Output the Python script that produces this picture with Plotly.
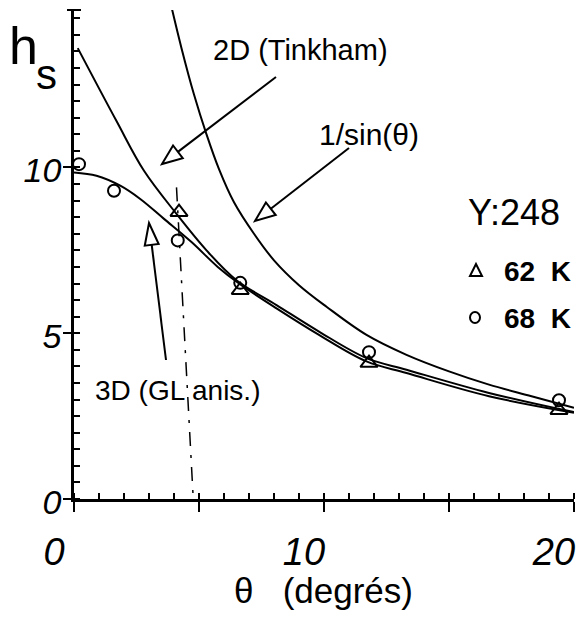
import math
import plotly.graph_objects as go

# ---------------- data ----------------
theta_62K = [4.2, 6.65, 11.8, 19.4]
hs_62K = [8.65, 6.3, 4.1, 2.68]

theta_68K = [0.2, 1.6, 4.15, 6.65, 11.8, 19.4]
hs_68K = [10.1, 9.3, 7.8, 6.52, 4.43, 2.98]

theta_invsin = [3.85, 4.3, 4.8, 5.3, 5.8, 6.4, 7.2, 8.0, 9.0, 10.1, 11.7, 13.3, 15.0, 16.6, 18.3, 20.0]
hs_invsin = [15.0, 13.6, 12.2, 11.0, 9.95, 8.95, 8.0, 7.2, 6.45, 5.8, 4.95, 4.35, 3.85, 3.45, 3.1, 2.75]

theta_2D = [0.15, 1.7, 2.8, 4.1, 5.3, 6.5, 8.1, 9.8, 11.7, 13.3, 16.6, 20.0]
hs_2D = [13.6, 11.4, 9.9, 8.6, 7.5, 6.6, 5.85, 5.05, 4.25, 3.9, 3.2, 2.62]

theta_3D = [0.0, 0.9, 1.85, 2.65, 3.6, 4.7, 5.75, 6.6, 8.1, 9.8, 11.7, 13.3, 16.6, 20.0]
hs_3D = [9.85, 9.75, 9.45, 9.05, 8.45, 7.75, 7.0, 6.5, 5.75, 4.95, 4.15, 3.8, 3.1, 2.6]

theta_dash = [4.1, 4.76]
hs_dash = [9.4, 0.15]

x_tickvals = [0, 5, 10, 15, 20]
x_ticktext = ["0", "", "10", "", "20"]
y_tickvals = [0, 5, 10]
y_ticktext = ["0", "5", "10"]

# ---------------- layout geometry ----------------
W, H = 585, 620
ML, MR, MT, MB = 74, 11, 10, 121
PW, PH = W - ML - MR, H - MT - MB
X_RANGE = [0, 20]
Y_RANGE = [0, 14.75]

FONT = "Liberation Sans, Arial, sans-serif"


def px(x):
    return (x - ML) / PW


def py(y):
    return (H - MB - y) / PH


fig = go.Figure()

line_style = dict(color="black", width=2, shape="spline", smoothing=1.0)
fig.add_trace(go.Scatter(x=theta_invsin, y=hs_invsin, mode="lines", line=line_style,
                         name="1/sin(θ)", showlegend=False))
fig.add_trace(go.Scatter(x=theta_2D, y=hs_2D, mode="lines", line=line_style,
                         name="2D (Tinkham)", showlegend=False))
fig.add_trace(go.Scatter(x=theta_3D, y=hs_3D, mode="lines", line=line_style,
                         name="3D (GL anis.)", showlegend=False))
fig.add_trace(go.Scatter(x=theta_dash, y=hs_dash, mode="lines",
                         line=dict(color="black", width=1.5, dash="14px,9px,3px,9px"),
                         showlegend=False))
fig.add_trace(go.Scatter(x=theta_62K, y=hs_62K, mode="markers", name="62 K",
                         marker=dict(symbol="triangle-up-open", size=15, color="black",
                                     line=dict(width=2, color="black")),
                         showlegend=False))
fig.add_trace(go.Scatter(x=theta_68K, y=hs_68K, mode="markers", name="68 K",
                         marker=dict(symbol="circle-open", size=12, color="black",
                                     line=dict(width=2, color="black")),
                         showlegend=False))

shapes = []


def arrow(tail, tip, L=20, w=8):
    tx, ty = tail
    hx, hy = tip
    dx, dy = hx - tx, hy - ty
    n = math.hypot(dx, dy)
    ux, uy = dx / n, dy / n
    bx, by = hx - L * ux, hy - L * uy
    nx, ny = -uy, ux
    c1 = (bx + w * nx, by + w * ny)
    c2 = (bx - w * nx, by - w * ny)
    shapes.append(dict(type="line", xref="paper", yref="paper",
                       x0=px(tx), y0=py(ty), x1=px(bx), y1=py(by),
                       line=dict(color="black", width=2)))
    path = "M {:.5f},{:.5f} L {:.5f},{:.5f} L {:.5f},{:.5f} Z".format(
        px(hx), py(hy), px(c1[0]), py(c1[1]), px(c2[0]), py(c2[1]))
    shapes.append(dict(type="path", xref="paper", yref="paper", path=path,
                       fillcolor="white", line=dict(color="black", width=2)))


arrow((276, 77), (162, 164))
arrow((349, 148), (255, 221))
arrow((166, 360), (149, 223), L=22, w=7)

# top cap of the y axis
shapes.append(dict(type="line", xref="paper", yref="paper",
                   x0=px(67), x1=px(81), y0=py(10), y1=py(10),
                   line=dict(color="black", width=2)))

# legend symbols
tri = "M {:.5f},{:.5f} L {:.5f},{:.5f} L {:.5f},{:.5f} Z".format(
    px(476), py(264), px(470), py(276), px(482), py(276))
shapes.append(dict(type="path", xref="paper", yref="paper", path=tri,
                   line=dict(color="black", width=2)))
shapes.append(dict(type="circle", xref="paper", yref="paper",
                   x0=px(470), x1=px(480), y0=py(312), y1=py(323),
                   line=dict(color="black", width=2)))

annotations = []


def label(text, x, y, size, weight="normal", style="normal", xanchor="center"):
    annotations.append(dict(text=text, xref="paper", yref="paper", x=px(x), y=py(y),
                            xanchor=xanchor, yanchor="middle", showarrow=False,
                            font=dict(family=FONT, size=size, color="black",
                                      weight=weight, style=style)))


label("h", 23, 46, 52)
label("s", 46, 74, 42)
label("2D (Tinkham)", 300, 50, 29)
label("1/sin(θ)", 369, 134, 30)
label("3D (GL anis.)", 177, 390, 28)
label("Y:248", 514, 212, 36)
label("62  K", 537, 271, 28, weight="bold")
label("68  K", 537, 318, 28, weight="bold")
label("θ   (degrés)", 323, 590, 35)

axis_common = dict(showgrid=False, zeroline=False, color="black", automargin=False)

fig.update_layout(
    template="none",
    width=W, height=H,
    margin=dict(l=ML, r=MR, t=MT, b=MB, pad=0),
    paper_bgcolor="white", plot_bgcolor="white",
    font=dict(family=FONT, color="black"),
    showlegend=False,
    hovermode=False,
    shapes=shapes,
    annotations=annotations,
    xaxis=dict(range=X_RANGE, tickmode="array", tickvals=x_tickvals, ticktext=x_ticktext,
               ticks="outside", ticklen=10, tickwidth=2, tickcolor="black",
               showline=True, linewidth=2.5, linecolor="black",
               tickfont=dict(family=FONT, size=38, style="italic", color="black"),
               ticklabelshift=-20, ticklabelstandoff=8,
               minor=dict(dtick=1, ticks="inside", ticklen=6, tickwidth=1.5, tickcolor="black",
                          showgrid=False),
               **axis_common),
    yaxis=dict(range=Y_RANGE, tickmode="array", tickvals=y_tickvals, ticktext=y_ticktext,
               ticks="outside", ticklen=8, tickwidth=2, tickcolor="black",
               showline=True, linewidth=2.5, linecolor="black",
               tickfont=dict(family=FONT, size=34, style="italic", color="black"),
               ticklabelstandoff=-5, ticklabelshift=3,
               minor=dict(dtick=0.5, ticks="inside", ticklen=6, tickwidth=1.5, tickcolor="black",
                          showgrid=False),
               **axis_common),
    xaxis2=dict(range=X_RANGE, overlaying="x", anchor="y", side="bottom",
                tickmode="array", tickvals=[5, 10, 15, 20], ticks="inside", ticklen=10,
                tickwidth=2, tickcolor="black", showticklabels=False, showline=False,
                **axis_common),
    yaxis2=dict(range=Y_RANGE, overlaying="y", anchor="x", side="left",
                tickmode="array", tickvals=[0, 5, 10], ticks="inside", ticklen=8,
                tickwidth=2, tickcolor="black", showticklabels=False, showline=False,
                **axis_common),
)

fig.write_html("out.html", config={"displayModeBar": False},
               post_script="document.body.style.margin='0';")
